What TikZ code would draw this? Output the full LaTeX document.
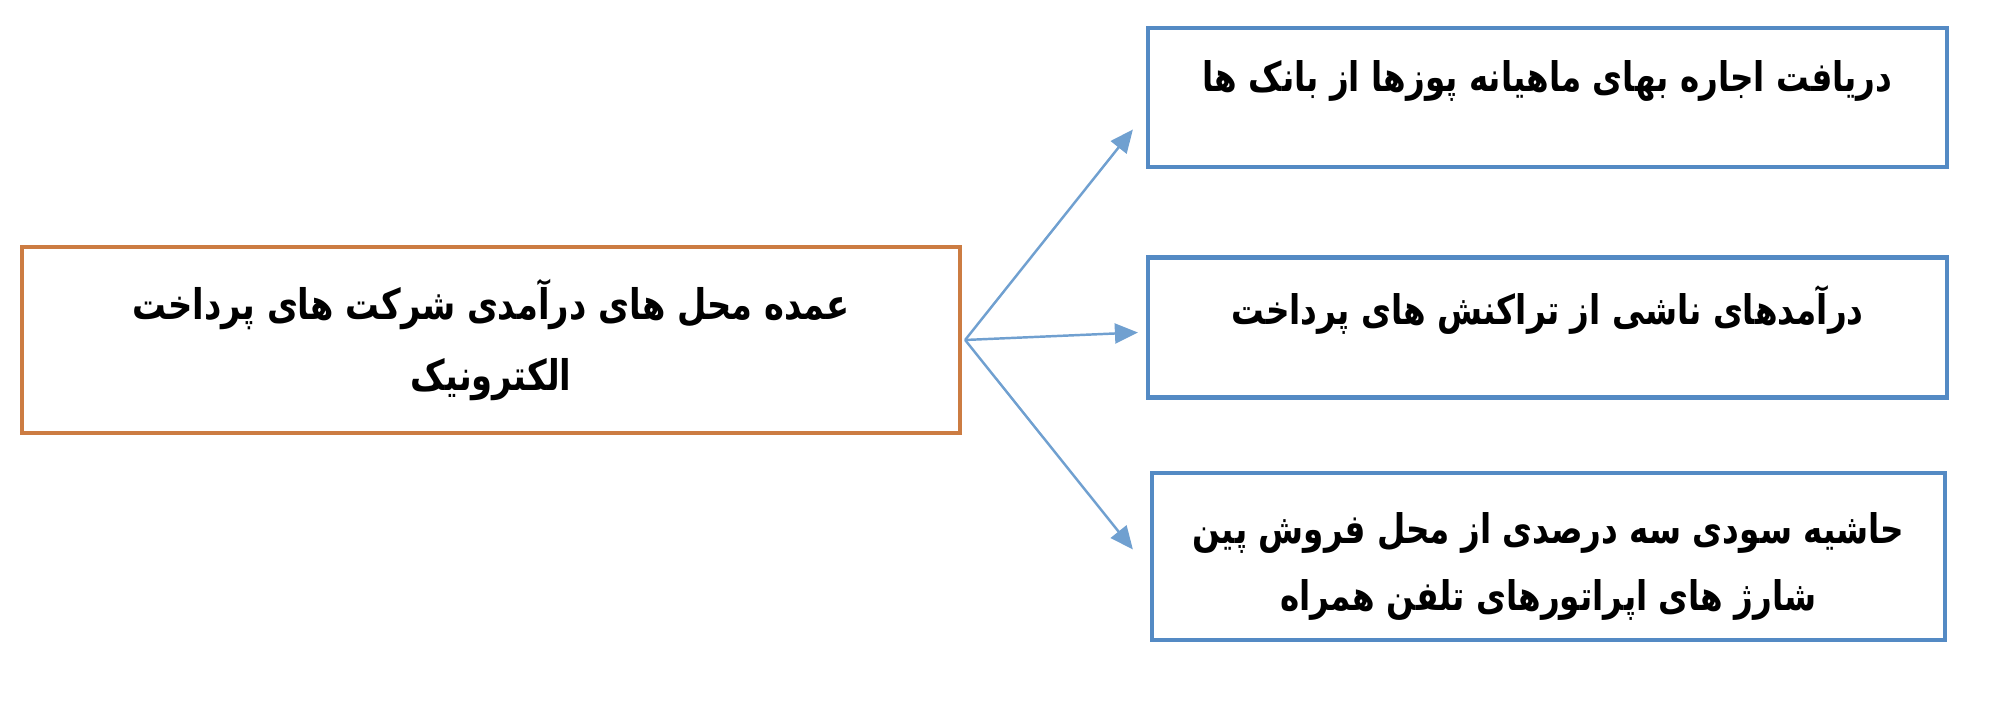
\documentclass[tikz,border=0pt]{standalone}
\usepackage{fontspec}
\usetikzlibrary{arrows.meta}
\newfontfamily\fafont[Script=Arabic,FakeStretch=0.8]{DejaVu Sans}
\TeXXeTstate=1
\definecolor{srcorange}{RGB}{204,124,66}
\definecolor{revblue}{RGB}{84,138,196}
\definecolor{flowblue}{RGB}{112,160,208}

\begin{document}
\begin{tikzpicture}[
    srcbox/.style={draw=srcorange, line width=1.2pt, inner sep=0pt, align=center,
        minimum width=9.38cm, minimum height=1.86cm,
        font=\fafont\bfseries\fontsize{12pt}{20pt}\selectfont},
    revbox/.style={draw=revblue, line width=1.2pt, inner sep=0pt,
        font=\fafont\bfseries\fontsize{11.6pt}{19.3pt}\selectfont},
    flow/.style={flowblue, line width=0.7pt, -{Triangle[length=0.23cm,width=0.2cm]}}
  ]
       \useasboundingbox (0,0) rectangle (19.93,7.11);

       \node[srcbox](src) at (4.91,3.71) {\beginR عمده محل های درآمدی شرکت های پرداخت\endR\\\beginR الکترونیک\endR};
       \coordinate(hub) at ([xshift=0.03cm]src.east);

       \node[revbox, minimum width=7.99cm, text height=0.64cm, text depth=0.75cm](rev1) at (15.475,6.135) {\beginR دریافت اجاره بهای ماهیانه پوزها از بانک ها\endR};

       \node[revbox, minimum width=7.99cm, text height=0.67cm, text depth=0.73cm](rev2) at (15.475,3.835) {\beginR درآمدهای ناشی از تراکنش های پرداخت\endR};

       \node[revbox, align=center, minimum width=7.93cm, text height=1.38cm, text depth=0.29cm](rev3) at (15.485,1.545) {\beginR حاشیه سودی سه درصدی از محل فروش پین\endR\\\beginR شارژ های اپراتورهای تلفن همراه\endR};

       \draw[flow] (hub) -- ([shift={(-0.13,-0.32)}]rev1.west);
       \draw[flow] (hub) -- ([shift={(-0.08,-0.05)}]rev2.west);
       \draw[flow] (hub) -- ([shift={(-0.17,0.07)}]rev3.west);

      \end{tikzpicture}
\end{document}
